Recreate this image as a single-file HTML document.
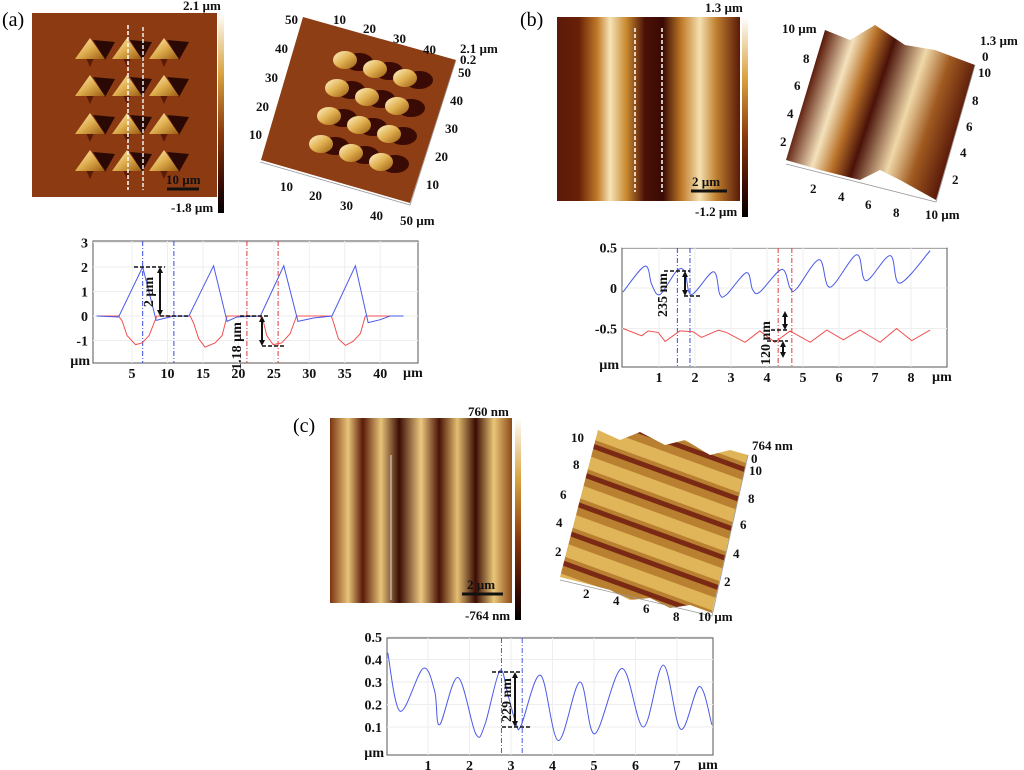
<!DOCTYPE html>
<html><head><meta charset="utf-8"><style>
html,body{margin:0;padding:0;background:#fff;}
svg{display:block;font-family:"Liberation Serif",serif;}
.t{font-weight:bold;font-size:13px;fill:#111;}
.tk{font-weight:bold;font-size:14px;fill:#111;}
</style></head><body>
<svg id="fig" width="1024" height="770" viewBox="0 0 1024 770" xmlns="http://www.w3.org/2000/svg">
<defs>
<linearGradient id="cbar" x1="0" y1="0" x2="0" y2="1"><stop offset="0" stop-color="#fff"/><stop offset="0.3" stop-color="#d9a441"/><stop offset="0.6" stop-color="#8a3a0c"/><stop offset="0.85" stop-color="#3a0c04"/><stop offset="1" stop-color="#000"/></linearGradient>
<linearGradient id="pyr" x1="0" y1="0" x2="1" y2="1"><stop offset="0" stop-color="#fff3c8"/><stop offset="0.5" stop-color="#e0b050"/><stop offset="1" stop-color="#9a5a10"/></linearGradient>
<linearGradient id="bimg" x1="0" y1="0" x2="1" y2="0">
<stop offset="0" stop-color="#5a1a08"/><stop offset="0.12" stop-color="#6a2008"/><stop offset="0.22" stop-color="#c07a28"/><stop offset="0.29" stop-color="#f6e4b8"/><stop offset="0.38" stop-color="#c8882e"/><stop offset="0.48" stop-color="#4a1006"/><stop offset="0.58" stop-color="#3a0a04"/><stop offset="0.68" stop-color="#c07a28"/><stop offset="0.78" stop-color="#f4e0b0"/><stop offset="0.87" stop-color="#c08030"/><stop offset="1" stop-color="#5a1a08"/></linearGradient>
<linearGradient id="cimg" x1="0" y1="0" x2="1" y2="0">
<stop offset="0" stop-color="#7a3410"/><stop offset="0.1" stop-color="#e8c47a"/><stop offset="0.18" stop-color="#5a1a08"/><stop offset="0.28" stop-color="#e8c47a"/><stop offset="0.38" stop-color="#3a0c04"/><stop offset="0.5" stop-color="#ecc880"/><stop offset="0.6" stop-color="#4a1206"/><stop offset="0.7" stop-color="#e4be70"/><stop offset="0.8" stop-color="#3a0c04"/><stop offset="0.9" stop-color="#eac678"/><stop offset="1" stop-color="#8a4a18"/></linearGradient>
<linearGradient id="b3d" x1="0" y1="0" x2="1" y2="0.3">
<stop offset="0" stop-color="#4a1208"/><stop offset="0.2" stop-color="#5a1a0a"/><stop offset="0.35" stop-color="#f4e2bc"/><stop offset="0.45" stop-color="#b87028"/><stop offset="0.55" stop-color="#4a1208"/><stop offset="0.72" stop-color="#f0d8a8"/><stop offset="0.85" stop-color="#a05a20"/><stop offset="1" stop-color="#5a1a0a"/></linearGradient>
<pattern id="c3d" width="30" height="28" patternUnits="userSpaceOnUse" patternTransform="rotate(-70)">
<rect width="30" height="28" fill="#b88030"/><rect x="0" width="13" height="28" fill="#e0b458"/><rect x="21" width="5" height="28" fill="#7a2a14"/></pattern>
</defs>

<!-- (a) -->
<text x="2" y="26" font-size="20">(a)</text>
<g>
<rect x="32" y="13" width="185" height="184" fill="#8c3a12"/>
<g id="pyrs"></g>
<line x1="128" y1="25" x2="128" y2="190" stroke="#fff" stroke-width="1.5" stroke-dasharray="4 2"/>
<line x1="143" y1="27" x2="143" y2="190" stroke="#eee" stroke-width="1.5" stroke-dasharray="4 2"/>
<line x1="167" y1="189" x2="199" y2="189" stroke="#111" stroke-width="3"/>
<text class="t" x="166" y="184">10 µm</text>
</g>
<rect x="218" y="13" width="6" height="200" fill="url(#cbar)"/>
<text class="t" x="183" y="10">2.1 µm</text><text class="t" x="171" y="212">-1.8 µm</text>
<g>
<polygon points="303,17 456,60 410,203 261,160" fill="#8e3e14"/>
<g id="pyr3"></g>
<polyline points="260,162 410,205 456,60" fill="none" stroke="#999" stroke-width="0.8"/>
</g>
<g class="t" font-size="12">
<text x="285" y="24">50</text><text x="275" y="53">40</text><text x="265" y="82">30</text><text x="256" y="111">20</text><text x="249" y="139">10</text>
<text x="333" y="24">10</text><text x="363" y="33">20</text><text x="393" y="43">30</text><text x="423" y="54">40</text>
<text x="460" y="53">2.1 µm</text><text x="460" y="64">0.2</text><text x="458" y="77">50</text><text x="450" y="105">40</text><text x="445" y="133">30</text><text x="435" y="161">20</text><text x="426" y="189">10</text><text x="400" y="225">50 µm</text>
<text x="280" y="191">10</text><text x="309" y="200">20</text><text x="340" y="210">30</text><text x="370" y="220">40</text>
</g>

<!-- (b) -->
<text x="520" y="26" font-size="20">(b)</text>
<g>
<rect x="557" y="17" width="183" height="184" fill="url(#bimg)"/>
<line x1="635" y1="28" x2="635" y2="192" stroke="#fff" stroke-width="1.5" stroke-dasharray="4 2"/>
<line x1="662" y1="28" x2="662" y2="192" stroke="#fff" stroke-width="1.5" stroke-dasharray="4 2"/>
<line x1="691" y1="191" x2="727" y2="191" stroke="#111" stroke-width="3"/>
<text class="t" x="692" y="186">2 µm</text>
</g>
<rect x="742" y="17" width="6" height="200" fill="url(#cbar)"/>
<text class="t" x="705" y="12">1.3 µm</text><text class="t" x="695" y="216">-1.2 µm</text>
<g>
<polygon points="786,160 825,30 850,40 875,25 905,45 935,50 975,65 936,200 900,180 880,170 860,180 820,170" fill="url(#b3d)"/>
<polyline points="786,164 936,202 975,65" fill="none" stroke="#999" stroke-width="0.8"/>
</g>
<g class="t" font-size="12">
<text x="782" y="33">10 µm</text><text x="803" y="63">8</text><text x="794" y="90">6</text><text x="787" y="118">4</text><text x="780" y="146">2</text>
<text x="980" y="45">1.3 µm</text><text x="982" y="61">0</text><text x="978" y="77">10</text><text x="972" y="105">8</text><text x="966" y="131">6</text><text x="960" y="157">4</text><text x="952" y="184">2</text><text x="925" y="219">10 µm</text>
<text x="810" y="193">2</text><text x="838" y="201">4</text><text x="865" y="209">6</text><text x="893" y="217">8</text>
</g>

<!-- (c) -->
<text x="293" y="432" font-size="20">(c)</text>
<g>
<rect x="330" y="418" width="182" height="185" fill="url(#cimg)"/>
<line x1="391" y1="455" x2="391" y2="600" stroke="#ddd" stroke-width="1"/>
<line x1="462" y1="594" x2="503" y2="594" stroke="#111" stroke-width="3"/>
<text class="t" x="467" y="589">2 µm</text>
</g>
<rect x="515" y="418" width="6" height="202" fill="url(#cbar)"/>
<text class="t" x="468" y="416">760 nm</text><text class="t" x="465" y="620">-764 nm</text>
<g>
<polygon points="598,430 620,440 640,432 665,445 685,440 710,455 730,450 748,455 712,613 690,605 670,608 650,598 630,600 610,590 580,582 560,577" fill="url(#c3d)"/>
<polyline points="560,580 712,616 748,455" fill="none" stroke="#999" stroke-width="0.8"/>
</g>
<g class="t" font-size="12">
<text x="571" y="442">10</text><text x="573" y="469">8</text><text x="560" y="499">6</text><text x="556" y="527">4</text><text x="555" y="556">2</text>
<text x="752" y="450">764 nm</text><text x="751" y="463">0</text><text x="749" y="475">10</text><text x="748" y="503">8</text><text x="740" y="529">6</text><text x="733" y="558">4</text><text x="724" y="586">2</text><text x="698" y="621">10 µm</text>
<text x="583" y="598">2</text><text x="613" y="605">4</text><text x="643" y="613">6</text><text x="673" y="621">8</text>
</g>

<g id="chartA"></g>
<g id="chartB"></g>
<g id="chartC"></g>
</svg>
<script>
// Chart A data
const aBlueX=[0,3.1,6.5,8.4,10.9,13,16.5,18.4,19.8,23.1,26.4,28.4,30.6,33.2,36.5,38.3,40,41.4,43.3];
const aBlueY=[0,-0.04,2.0,-0.18,0,-0.01,2.05,-0.22,-0.04,0,2.05,-0.22,-0.08,0,2.05,-0.27,-0.15,0,0];
const aRedX=[0,3.1,3.6,4.3,5.5,6.4,7.4,8.5,13.2,13.7,14.4,15.3,16.7,17.7,18.4,23,23.5,24,24.9,26.1,27.3,28.2,33.1,33.4,34.1,35.1,36.2,37.2,37.9,43];
const aRedY=[0,0,-0.2,-0.8,-1.17,-1.1,-0.8,0,0,-0.3,-0.93,-1.27,-1.1,-0.8,0,0,-0.2,-0.8,-1.17,-1.1,-0.72,0,0,-0.25,-0.93,-1.2,-1.03,-0.72,0,0];
const aXTicks=[5,10,15,20,25,30,35,40];
const aYTicks=[-1,0,1,2,3];
const aBlueMarks=[6.5,10.9];
const aRedMarks=[21.2,25.6];
// Chart B data
const bBlueX=[0,0.61,0.8,1.03,1.49,1.72,1.9,2.51,2.69,2.88,3.43,3.6,3.8,4.41,4.64,4.82,5.45,5.75,6.49,6.75,7.42,7.69,8.53];
const bBlueY=[-0.05,0.27,0.04,-0.08,0.21,0.2,-0.08,0.2,-0.08,-0.08,0.19,-0.02,-0.05,0.23,0,-0.01,0.35,0.01,0.41,0.09,0.4,0.06,0.46];
const bRedX=[0,0.52,0.7,0.98,1.17,1.58,1.95,2.18,2.65,2.88,3.39,3.8,4.22,4.64,5.2,5.66,6.12,6.58,7.14,7.6,8.02,8.53];
const bRedY=[-0.5,-0.59,-0.53,-0.55,-0.66,-0.53,-0.54,-0.61,-0.52,-0.55,-0.67,-0.53,-0.67,-0.53,-0.67,-0.52,-0.64,-0.52,-0.67,-0.5,-0.65,-0.52];
const bXTicks=[1,2,3,4,5,6,7,8];
const bYTicks=[-0.5,0,0.5];
const bBlueMarks=[1.51,1.86];
const bRedMarks=[4.31,4.69];
// Chart C data
const cX=[0.03,0.33,0.88,1.16,1.28,1.72,2.15,2.37,2.73,2.93,3.13,3.25,3.71,4.14,4.66,5.02,5.67,6.19,6.67,7.09,7.54,7.84];
const cY=[0.43,0.17,0.36,0.26,0.11,0.32,0.07,0.11,0.35,0.24,0.11,0.11,0.33,0.04,0.30,0.07,0.36,0.10,0.375,0.09,0.28,0.11];
const cXTicks=[1,2,3,4,5,6,7];
const cYTicks=[0.1,0.2,0.3,0.4,0.5];
const cMarks=[2.77,3.27];

const NS="http://www.w3.org/2000/svg";
function mk(parent,tag,attrs,txt){const e=document.createElementNS(NS,tag);for(const k in attrs)e.setAttribute(k,attrs[k]);if(txt!==undefined)e.textContent=txt;parent.appendChild(e);return e;}
function smooth(pts){let d="M"+pts[0][0]+","+pts[0][1];for(let i=0;i<pts.length-1;i++){const p0=pts[Math.max(0,i-1)],p1=pts[i],p2=pts[i+1],p3=pts[Math.min(pts.length-1,i+2)];const c1x=p1[0]+(p2[0]-p0[0])/6,c1y=p1[1]+(p2[1]-p0[1])/6,c2x=p2[0]-(p3[0]-p1[0])/6,c2y=p2[1]-(p3[1]-p1[1])/6;d+=` C${c1x},${c1y} ${c2x},${c2y} ${p2[0]},${p2[1]}`;}return d;}

function chart(g,box,sx,sy,xt,yt,series,marks){
  const [L,T,R,B]=box;
  mk(g,"rect",{x:L,y:T,width:R-L,height:B-T,fill:"#fff",stroke:"#555","stroke-width":1});
  xt.forEach(v=>{const x=sx(v);mk(g,"line",{x1:x,y1:T,x2:x,y2:B,stroke:"#eee"});
    const t=mk(g,"text",{x:x,y:B+15,"text-anchor":"middle",class:"tk"},String(v));
    
    });
  yt.forEach(v=>{const y=sy(v);mk(g,"line",{x1:L,y1:y,x2:R,y2:y,stroke:"#eee"});
    const t=mk(g,"text",{x:L-5,y:y+5,"text-anchor":"end",class:"tk"},String(v));
    
    });
  mk(g,"text",{x:L-3,y:B+2,"text-anchor":"end",class:"tk"},"µm");
  mk(g,"text",{x:R-15,y:B+14,class:"tk"},"µm");
  marks.forEach(m=>{m.xs.forEach(v=>{const x=sx(v);const l=mk(g,"line",{x1:x,y1:T,x2:x,y2:B,stroke:m.c,"stroke-width":1,"stroke-dasharray":"5 2 1 2"});
    
    });});
  series.forEach(s=>{const pts=s.x.map((v,i)=>[sx(v),sy(s.y[i])]);
    const p=mk(g,"path",{d:s.smooth?smooth(pts):"M"+pts.map(p=>p.join(",")).join(" L"),fill:"none",stroke:s.c,"stroke-width":1});
    
    });
}
const A=document.getElementById("chartA");
chart(A,[93,241,418,363],v=>96.6+7.09*v,v=>316-24.5*v,aXTicks,aYTicks,
 [{x:aRedX,y:aRedY,c:"#f05050",name:"profile-red-a"},{x:aBlueX,y:aBlueY,c:"#4a5ae8",name:"profile-blue-a"}],
 [{xs:aBlueMarks,c:"#3a4ae0"},{xs:aRedMarks,c:"#e03a3a"}]);
const B=document.getElementById("chartB");
chart(B,[622,248,947,367],v=>623+36*v,v=>288-81*v,bXTicks,bYTicks,
 [{x:bBlueX,y:bBlueY,c:"#4a5ae8",name:"profile-blue-b",smooth:true},{x:bRedX,y:bRedY,c:"#f05050",name:"profile-red-b"}],
 [{xs:bBlueMarks,c:"#3a4ae0"},{xs:bRedMarks,c:"#e03a3a"}]);
const C=document.getElementById("chartC");
chart(C,[387,638,713,755],v=>386.5+41.5*v,v=>727-225*(v-0.1),cXTicks,cYTicks,
 [{x:cX,y:cY,c:"#4a5ae8",name:"profile-blue-c",smooth:true}],
 [{xs:cMarks,c:"#4a5ae8"}]);

function dash(g,x1,y,x2){mk(g,"line",{x1:x1,y1:y,x2:x2,y2:y,stroke:"#111","stroke-width":1.5,"stroke-dasharray":"4 2"});}
function arrow(g,x,y1,y2){mk(g,"line",{x1:x,y1:y1+5,x2:x,y2:y2-5,stroke:"#111","stroke-width":2});
 mk(g,"polygon",{points:`${x-3},${y1+6} ${x+3},${y1+6} ${x},${y1}`,fill:"#111"});mk(g,"polygon",{points:`${x-3},${y2-6} ${x+3},${y2-6} ${x},${y2}`,fill:"#111"});}
function vtext(g,x,y,s){mk(g,"text",{x:x,y:y,class:"tk",transform:`rotate(-90 ${x} ${y})`,"text-anchor":"middle"},s);}
dash(A,134,267,165);dash(A,160,316,188);arrow(A,160,267,316);vtext(A,153,292,"2 µm");
dash(A,240,316,268);dash(A,262,346,285);arrow(A,262,316,346);vtext(A,241,346,"1.18 µm");
dash(B,664,271,690);dash(B,684,296,702);arrow(B,685,271,296);vtext(B,667,295,"235 nm");
dash(B,771,330,789);dash(B,767,341,788);arrow(B,785,311,330);arrow(B,783,341,358);vtext(B,770,343,"120 nm");
dash(C,492,672,522);dash(C,502,727,530);arrow(C,515,672,727);vtext(C,511,700,"229 nm");

const pcx=[91,128,165], pcy=[50,87,125,162];
const PG=document.getElementById("pyrs");
pcy.forEach(y=>pcx.forEach(x=>{
 mk(PG,"polygon",{points:`${x+2},${y-10} ${x+24},${y-8} ${x+14},${y+10}`,fill:"#2a0804"});
 mk(PG,"polygon",{points:`${x-5},${y+8} ${x+3},${y+8} ${x-1},${y+17}`,fill:"#5a1a08"});
 mk(PG,"polygon",{points:`${x-1},${y-12} ${x+14},${y+9} ${x-16},${y+9}`,fill:"url(#pyr)"});
}));
const P3=document.getElementById("pyr3");
for(let r=0;r<4;r++)for(let c=0;c<3;c++){
 const x=345+c*30-r*8, y=60+c*9+r*28;
 mk(P3,"ellipse",{cx:x+14,cy:y+2,rx:14,ry:9,fill:"#3a0a04"});
 mk(P3,"ellipse",{cx:x,cy:y,rx:12,ry:9,fill:"url(#pyr)"});
}
</script>
</body></html>
